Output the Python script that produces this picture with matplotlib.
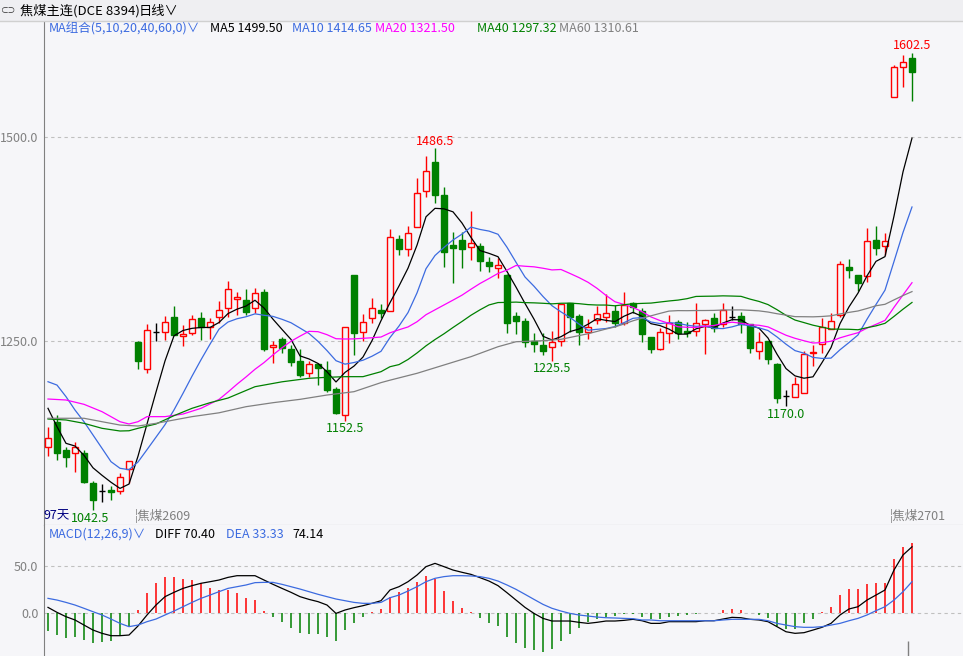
import numpy as np
import pandas as pd
import matplotlib
matplotlib.use("Agg")
import matplotlib.pyplot as plt

plt.rcParams['font.family'] = ['Noto Sans CJK SC', 'DejaVu Sans']

# ---- daily candles, 97 sessions ----
opens = [1120.5, 1150.4, 1116.4, 1112.4, 1112.4, 1075.6, 1066.5, 1067.0, 1065.8, 1092.8,
         1249.1, 1215.3, 1261.4, 1260.7, 1279.0, 1255.8, 1259.4, 1277.8, 1266.8, 1279.8,
         1290.1, 1301.1, 1300.2, 1290.1, 1309.7, 1242.3, 1252.4, 1240.2, 1225.5, 1210.4,
         1221.4, 1214.5, 1190.8, 1159.3, 1330.9, 1260.7, 1277.8, 1288.0, 1287.1, 1374.6,
         1362.4, 1390.1, 1434.2, 1469.0, 1428.9, 1367.6, 1373.8, 1364.8, 1366.4, 1346.8,
         1339.8, 1330.9, 1280.6, 1274.5, 1250.4, 1245.1, 1242.3, 1250.0, 1296.2, 1280.6,
         1261.4, 1275.7, 1279.8, 1286.8, 1271.7, 1296.2, 1286.8, 1254.5, 1239.8, 1260.2,
         1272.9, 1262.6, 1262.3, 1270.5, 1277.8, 1270.8, 1279.8, 1280.6, 1270.8, 1237.7,
         1250.4, 1221.4, 1182.9, 1181.7, 1186.6, 1234.9, 1246.3, 1264.7, 1281.9, 1340.3,
         1330.9, 1329.7, 1373.8, 1366.8, 1549.4, 1585.4, 1596.4]
highs = [1144.2, 1159.3, 1120.5, 1125.9, 1116.4, 1078.4, 1074.4, 1072.3, 1088.6, 1103.3,
         1250.0, 1270.8, 1271.7, 1280.6, 1292.9, 1269.6, 1281.9, 1285.9, 1277.8, 1298.6,
         1323.5, 1310.4, 1313.4, 1314.9, 1313.4, 1250.4, 1254.5, 1245.1, 1240.2, 1225.5,
         1222.7, 1225.5, 1193.3, 1266.8, 1330.9, 1283.1, 1302.3, 1295.3, 1386.9, 1379.9,
         1390.9, 1449.4, 1476.7, 1486.5, 1438.4, 1384.0, 1384.0, 1409.7, 1370.5, 1353.3,
         1351.3, 1332.0, 1285.9, 1278.6, 1260.2, 1259.4, 1262.3, 1295.0, 1296.2, 1283.1,
         1276.6, 1292.9, 1307.2, 1294.1, 1309.7, 1297.4, 1290.1, 1254.5, 1265.6, 1281.9,
         1275.7, 1273.7, 1296.2, 1276.6, 1283.9, 1296.9, 1292.9, 1285.9, 1270.8, 1260.7,
         1250.4, 1223.4, 1189.9, 1206.3, 1237.7, 1245.1, 1277.8, 1284.7, 1348.0, 1350.1,
         1330.9, 1388.1, 1390.9, 1382.0, 1588.2, 1600.0, 1602.5]
lows = [1109.4, 1104.2, 1095.8, 1089.0, 1075.6, 1042.5, 1053.0, 1055.1, 1062.5, 1075.6,
        1215.7, 1210.4, 1250.4, 1251.2, 1257.3, 1243.9, 1257.3, 1251.2, 1252.0, 1272.4,
        1279.8, 1281.9, 1281.9, 1283.9, 1238.1, 1222.7, 1235.7, 1219.4, 1206.3, 1205.5,
        1196.1, 1187.9, 1160.5, 1152.5, 1232.8, 1250.4, 1272.4, 1277.8, 1287.1, 1355.4,
        1354.2, 1390.1, 1426.8, 1419.5, 1340.3, 1321.4, 1339.0, 1349.3, 1335.8, 1334.9,
        1326.8, 1259.4, 1258.6, 1242.3, 1236.9, 1232.8, 1225.5, 1243.9, 1261.4, 1245.1,
        1252.0, 1270.5, 1273.7, 1267.5, 1269.6, 1283.9, 1249.1, 1235.7, 1239.0, 1247.9,
        1252.4, 1255.3, 1256.1, 1233.7, 1261.4, 1267.5, 1275.7, 1260.2, 1235.7, 1227.9,
        1221.8, 1173.6, 1170.0, 1181.7, 1186.6, 1219.7, 1234.9, 1264.7, 1279.8, 1326.8,
        1311.6, 1322.7, 1355.4, 1355.4, 1548.7, 1560.9, 1544.5]
closes = [1131.5, 1112.4, 1108.2, 1120.5, 1076.8, 1055.1, 1066.5, 1065.5, 1082.9, 1103.3,
          1225.9, 1263.5, 1261.4, 1273.7, 1257.3, 1258.6, 1276.6, 1266.8, 1273.7, 1287.6,
          1313.4, 1303.6, 1285.9, 1309.2, 1240.2, 1244.7, 1241.0, 1224.6, 1208.3, 1221.4,
          1217.3, 1189.9, 1162.1, 1266.8, 1260.2, 1272.9, 1290.1, 1284.7, 1377.1, 1362.4,
          1382.0, 1431.0, 1458.7, 1428.9, 1359.4, 1363.6, 1362.4, 1370.5, 1348.4, 1342.3,
          1343.1, 1271.7, 1274.9, 1248.4, 1245.9, 1238.1, 1249.1, 1295.0, 1279.8, 1261.4,
          1267.5, 1283.1, 1284.7, 1272.4, 1294.1, 1291.3, 1258.6, 1239.8, 1260.7, 1272.4,
          1260.2, 1259.4, 1271.7, 1275.7, 1265.6, 1287.9, 1279.8, 1270.8, 1241.8, 1248.4,
          1227.6, 1180.5, 1182.9, 1196.9, 1234.1, 1236.2, 1267.5, 1274.5, 1344.0, 1337.0,
          1320.7, 1372.9, 1363.6, 1372.9, 1585.4, 1591.5, 1580.0]

# moving-average values before enough history is on screen
ma_heads = {
    5: ([0, 1, 2, 3], [1167.5, 1145.0, 1124.6, 1121.3]),
    10: (list(range(9)), [1200.1, 1196.0, 1181.8, 1165.4, 1151.1, 1134.8, 1118.5, 1102.1, 1094.0]),
    20: ([0, 2, 4, 6, 8, 9, 10, 11, 13, 15, 17],
         [1178.9, 1177.7, 1172.4, 1163.4, 1151.1, 1148.3, 1151.1, 1157.3, 1157.3, 1160.5, 1167.5]),
    40: ([0, 2, 4, 6, 8, 9, 10, 12, 14, 16, 18, 20, 23, 26, 29, 31, 33, 35, 37, 38],
         [1154.4, 1153.2, 1149.1, 1143.0, 1139.7, 1140.0, 1143.0, 1148.3, 1158.5, 1167.5,
          1174.4, 1180.1, 1194.0, 1200.0, 1204.3, 1205.5, 1206.3, 1206.3, 1212.4, 1218.5]),
    60: ([0, 4, 6, 8, 10, 12, 14, 16, 19, 22, 25, 28, 31, 34, 37, 38, 41, 44, 47, 50, 52, 55, 57],
         [1155.3, 1155.3, 1151.1, 1147.0, 1145.8, 1149.1, 1153.2, 1157.3, 1162.0, 1169.5,
          1174.4, 1178.5, 1183.8, 1187.9, 1199.0, 1202.0, 1210.4, 1220.6, 1230.8, 1243.0,
          1249.1, 1250.4, 1252.1]),
}
ma_colors = {5: '#000000', 10: '#3c6be0', 20: '#ff00ff', 40: '#008000', 60: '#808080'}

# ---- MACD(12,26,9) ----
macd_hist = [-19.1, -23.4, -26.2, -25.2, -28.7, -32.3, -31.2, -29.4, -24.5, -14.5,
             3.2, 21.6, 32.3, 38.7, 38.7, 36.2, 35.1, 31.6, 27.0, 24.5,
             24.5, 21.6, 16.3, 13.8, 2.1, -3.9, -9.2, -15.6, -21.0, -22.3,
             -22.3, -25.2, -29.4, -18.1, -10.3, -3.9, 1.4, 4.3, 17.4, 22.7,
             27.0, 33.3, 39.4, 36.2, 23.4, 12.8, 5.7, 0.7, -5.0, -10.3,
             -13.5, -25.2, -31.6, -36.9, -39.4, -41.1, -38.3, -29.8, -22.7, -15.6,
             -9.2, -6.4, -3.9, -2.8, -1.4, -0.7, -3.9, -6.4, -6.4, -3.9,
             -3.2, -2.5, -0.7, 0.4, 0.4, 3.2, 4.3, 3.2, 0.0, -2.1,
             -5.0, -13.8, -17.4, -17.4, -10.3, -6.7, 1.4, 6.7, 19.1, 25.5,
             25.5, 31.2, 32.3, 32.3, 57.4, 70.6, 74.14]
diff = [6.0, 0.7, -3.9, -7.4, -12.8, -18.1, -21.6, -24.1, -24.1, -23.4,
        -13.8, -2.1, 8.5, 17.4, 22.0, 26.2, 29.1, 31.6, 33.3, 35.1,
        37.9, 39.7, 39.7, 39.7, 35.1, 30.5, 26.2, 22.0, 17.4, 14.5,
        12.1, 8.5, -0.4, 3.2, 5.7, 7.8, 10.3, 13.1, 24.5, 28.0,
        33.3, 40.4, 49.3, 52.8, 49.3, 45.7, 43.3, 41.1, 37.6, 34.0,
        29.1, 21.6, 13.8, 6.0, -0.4, -5.7, -8.5, -8.5, -8.5, -9.9,
        -11.0, -9.9, -8.5, -8.5, -7.8, -6.7, -8.2, -11.0, -11.0, -9.2,
        -9.2, -9.2, -9.2, -8.2, -8.2, -6.4, -4.6, -5.0, -6.7, -7.4,
        -9.2, -14.5, -19.9, -21.6, -20.9, -18.1, -15.2, -11.0, -2.1, 4.3,
        6.7, 13.8, 19.1, 24.5, 45.7, 61.7, 70.40]
dea = [15.6, 13.8, 11.3, 8.5, 5.0, 1.4, -2.1, -6.4, -11.0, -14.5,
       -12.8, -9.2, -6.4, -2.1, 2.1, 6.7, 11.3, 15.6, 19.1, 22.7,
       26.2, 28.0, 29.8, 32.3, 32.6, 32.6, 30.5, 28.0, 25.5, 22.7,
       19.9, 17.4, 14.9, 13.1, 11.3, 10.3, 10.3, 11.3, 16.3, 19.1,
       23.4, 28.0, 33.3, 36.9, 38.7, 39.7, 39.7, 39.4, 38.7, 36.9,
       34.0, 29.8, 25.2, 19.9, 14.5, 9.2, 5.0, 2.1, -0.4, -2.1,
       -3.2, -4.3, -5.0, -5.3, -5.7, -6.0, -7.4, -7.4, -8.2, -8.2,
       -8.2, -8.2, -8.2, -8.2, -8.2, -7.4, -6.7, -6.7, -6.7, -6.7,
       -8.2, -11.0, -12.8, -14.5, -15.2, -15.2, -14.5, -12.8, -11.0, -8.2,
       -5.7, -2.1, 2.5, 6.7, 13.8, 22.7, 33.33]

BG = '#f6f6f9'
RED = '#ff0000'
GREEN = '#008000'
W, H = 963, 656

fig = plt.figure(figsize=(W / 100, H / 100), dpi=100, facecolor=BG)


def fx(px):
    return px / W


def fy(py):
    return 1 - py / H


def ftext(px, py, s, color, size=9, **kw):
    fig.text(fx(px), fy(py), s, color=color, fontsize=size, va='center', ha='left', **kw)


n = len(closes)
xs = np.arange(n)
o = np.array(opens)
h = np.array(highs)
l = np.array(lows)
c = np.array(closes)

# ---- main price panel ----
ax = fig.add_axes([fx(44), fy(525), fx(963) - fx(44), fy(21) - fy(525)], facecolor=BG)
ax.set_xlim((44 - 48) / 9, (963 - 48) / 9)
ax.set_ylim(1024.5, 1642.2)

up = c > o
down = c < o
flat = c == o
bw = 0.66

# wicks
for i in range(n):
    col = RED if up[i] else (GREEN if down[i] else 'black')
    ax.vlines(xs[i], l[i], h[i], color=col, lw=1, zorder=2)
# bodies
ax.bar(xs[up], (c - o)[up], bottom=o[up], width=bw, facecolor=BG, edgecolor=RED, lw=1, zorder=3)
ax.bar(xs[down], (c - o)[down], bottom=o[down], width=bw, facecolor=GREEN, edgecolor=GREEN, lw=1, zorder=3)
ax.hlines(c[flat], xs[flat] - bw / 2, xs[flat] + bw / 2, color='black', lw=1, zorder=3)

# moving averages
close_s = pd.Series(closes)
for period, (hidx, hval) in ma_heads.items():
    roll = close_s.rolling(period).mean().values
    mx = list(hidx) + list(range(period - 1, n))
    my = list(hval) + list(roll[period - 1:])
    ax.plot(mx, my, color=ma_colors[period], lw=0.9, zorder=4)

ax.set_yticks([1250, 1500])
ax.yaxis.set_major_formatter(matplotlib.ticker.FormatStrFormatter('%.1f'))
ax.tick_params(axis='y', length=0, pad=4, labelsize=9, labelcolor='#808080')
ax.set_xticks([])
ax.yaxis.grid(True, linestyle=(0, (3, 3)), color='#c0c0c0', lw=0.8)
for s in ['top', 'right']:
    ax.spines[s].set_visible(False)
ax.spines['left'].set_color('#808080')
ax.spines['bottom'].set_color('#a0a0a0')

# extreme labels
ax.annotate('1602.5', (96, highs[96]), xytext=(0, 1), textcoords='offset points',
            ha='center', va='bottom', color=RED, fontsize=9)
ax.annotate('1486.5', (43, highs[43]), xytext=(0, 0), textcoords='offset points',
            ha='center', va='bottom', color=RED, fontsize=9)
for i in [33, 56, 82]:
    ax.annotate('%.1f' % lows[i], (i, lows[i]), xytext=(0, -1), textcoords='offset points',
                ha='center', va='top', color=GREEN, fontsize=9)
ax.annotate('1042.5', (5, lows[5]), xytext=(-2, -1), textcoords='offset points',
            ha='center', va='top', color=GREEN, fontsize=9)

# ---- MACD panel ----
mx_ax = fig.add_axes([fx(44), 0, fx(963) - fx(44), fy(525)], facecolor=BG)
mx_ax.set_xlim((44 - 48) / 9, (963 - 48) / 9)
mx_ax.set_ylim(-45.7, 93.6)
hist = np.array(macd_hist)
mx_ax.vlines(xs[hist >= 0], 0, hist[hist >= 0], color=RED, lw=1.1, zorder=2)
mx_ax.vlines(xs[hist < 0], 0, hist[hist < 0], color=GREEN, lw=1.1, zorder=2)
mx_ax.plot(xs, diff, color='black', lw=0.9, zorder=3)
mx_ax.plot(xs, dea, color=ma_colors[10], lw=0.9, zorder=3)
mx_ax.set_yticks([0, 50])
mx_ax.yaxis.set_major_formatter(matplotlib.ticker.FormatStrFormatter('%.1f'))
mx_ax.tick_params(axis='y', length=0, pad=4, labelsize=9, labelcolor='#808080')
mx_ax.set_xticks([])
mx_ax.yaxis.grid(True, linestyle=(0, (3, 3)), color='#c0c0c0', lw=0.8)
for s in ['top', 'right', 'bottom']:
    mx_ax.spines[s].set_visible(False)
mx_ax.spines['left'].set_color('#808080')
mx_ax.vlines(95.6, -45.7, -30, color='#808080', lw=1)

# ---- header bar ----
fig.patches.append(plt.Rectangle((0, fy(21)), 1, 1 - fy(21), transform=fig.transFigure,
                                 facecolor='#efeff2', edgecolor='none', zorder=0))
fig.add_artist(plt.Line2D([0, 1], [fy(21), fy(21)], transform=fig.transFigure, color='#d0d0d0', lw=1))
ftext(0, 11, '⊂⊃', '#303030', size=5.5)
ftext(20, 11, '焦煤主连(DCE 8394)', 'black', size=9.5)
ftext(139, 11, '日线∨', 'black', size=9.5)

# MA legend
ftext(49, 29, 'MA组合(5,10,20,40,60,0)∨', ma_colors[10])
ftext(210, 29, 'MA5 %.2f' % 1499.50, ma_colors[5])
ftext(292, 29, 'MA10 %.2f' % 1414.65, ma_colors[10])
ftext(375, 29, 'MA20 %.2f' % 1321.50, ma_colors[20])
ftext(477, 29, 'MA40 %.2f' % 1297.32, ma_colors[40])
ftext(559, 29, 'MA60 %.2f' % 1310.61, ma_colors[60])

# contract / range labels at the bottom of the price panel
ftext(43, 516, '97天', '#000080')
ftext(135, 516, '¦焦煤2609', '#808080')
ftext(890, 516, '¦焦煤2701', '#808080')

# MACD legend
ftext(49, 534, 'MACD(12,26,9)∨', ma_colors[10])
ftext(155, 534, 'DIFF %.2f' % diff[-1], 'black')
ftext(226, 534, 'DEA %.2f' % dea[-1], ma_colors[10])
ftext(292, 534, '%.2f' % macd_hist[-1], 'black')

fig.savefig('out.png', dpi=100, facecolor=BG)
